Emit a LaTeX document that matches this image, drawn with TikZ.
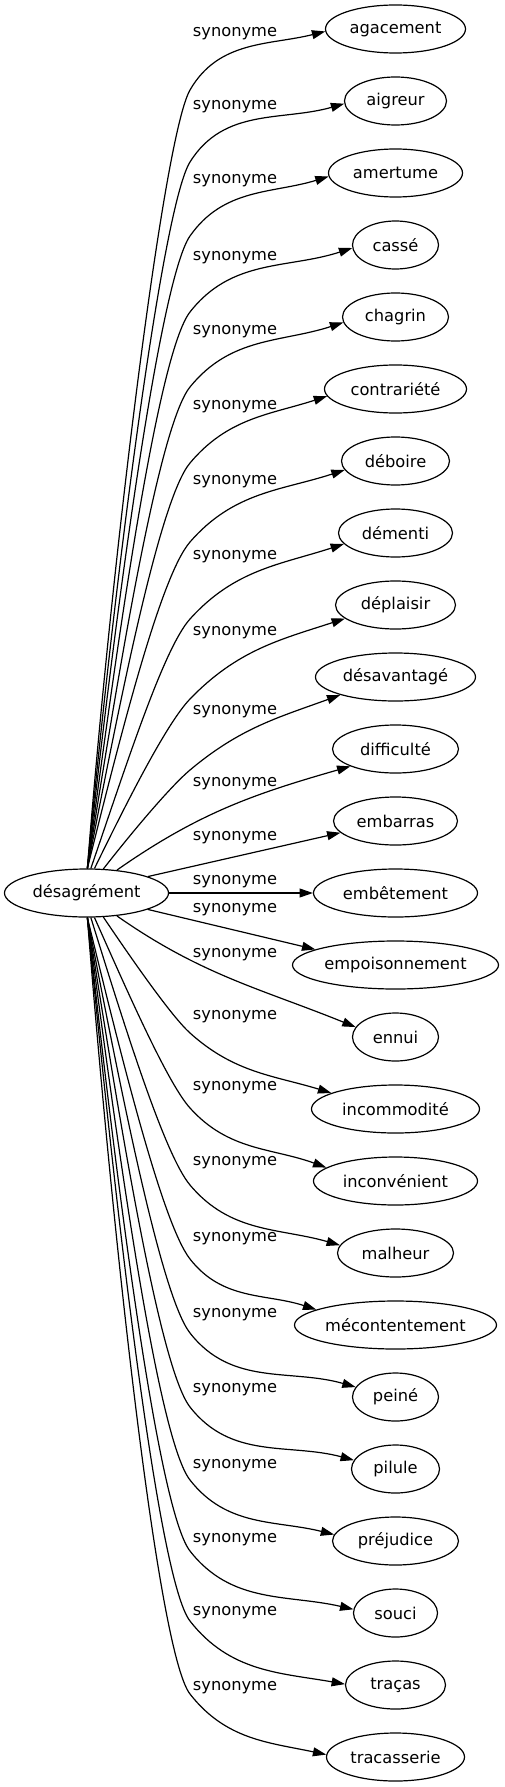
\documentclass[tikz,border=0pt]{standalone}
\usepackage{fontspec}
\setmainfont{DejaVu Sans}
\usetikzlibrary{shapes.geometric,arrows.meta}
\begin{document}
\begin{tikzpicture}[x=0.75pt,y=-0.75pt,
  tgt/.style={ellipse,draw,line width=0.9pt,inner sep=0pt,minimum height=36pt,font=\fontsize{12.2pt}{14pt}\selectfont},
  lbl/.style={inner sep=0pt,font=\fontsize{12.2pt}{14pt}\selectfont},
  edge/.style={draw,line width=0.9pt,-{Triangle[length=10pt,width=6.7pt]}}]
\useasboundingbox (0,0) rectangle (504,1787);
% source
\node[tgt,minimum width=123pt] (d) at (86.5,893) {désagrément};
% targets
\node[tgt,minimum width=105pt]   (t0)  at (395.5,29)   {agacement};
\node[tgt,minimum width=76.5pt]  (t1)  at (395.5,101)  {aigreur};
\node[tgt,minimum width=100.5pt] (t2)  at (395.5,173)  {amertume};
\node[tgt,minimum width=64.5pt]  (t3)  at (395.5,245)  {cassé};
\node[tgt,minimum width=79.5pt]  (t4)  at (395.5,317)  {chagrin};
\node[tgt,minimum width=106.5pt] (t5)  at (395.5,389)  {contrariété};
\node[tgt,minimum width=81pt]    (t6)  at (395.5,461)  {déboire};
\node[tgt,minimum width=85.5pt]  (t7)  at (395.5,533)  {démenti};
\node[tgt,minimum width=90pt]    (t8)  at (395.5,605)  {déplaisir};
\node[tgt,minimum width=120pt]   (t9)  at (395.5,677)  {désavantagé};
\node[tgt,minimum width=94.5pt]  (t10) at (395.5,749)  {difficulté};
\node[tgt,minimum width=93pt]    (t11) at (395.5,821)  {embarras};
\node[tgt,minimum width=123pt]   (t12) at (395.5,893)  {embêtement};
\node[tgt,minimum width=154.5pt] (t13) at (395.5,965)  {empoisonnement};
\node[tgt,minimum width=64.5pt]  (t14) at (395.5,1037) {ennui};
\node[tgt,minimum width=126pt]   (t15) at (395.5,1109) {incommodité};
\node[tgt,minimum width=123pt]   (t16) at (395.5,1181) {inconvénient};
\node[tgt,minimum width=87pt]    (t17) at (395.5,1253) {malheur};
\node[tgt,minimum width=151.5pt] (t18) at (395.5,1325) {mécontentement};
\node[tgt,minimum width=64.5pt]  (t19) at (395.5,1397) {peiné};
\node[tgt,minimum width=66pt]    (t20) at (395.5,1469) {pilule};
\node[tgt,minimum width=94.5pt]  (t21) at (395.5,1541) {préjudice};
\node[tgt,minimum width=63pt]    (t22) at (395.5,1613) {souci};
\node[tgt,minimum width=75pt]    (t23) at (395.5,1685) {traças};
\node[tgt,minimum width=103.5pt] (t24) at (395.5,1757) {tracasserie};
% labels
\node[lbl] (l0)  at (235,34)   {synonyme};
\node[lbl] (l1)  at (235,107)  {synonyme};
\node[lbl] (l2)  at (235,181)  {synonyme};
\node[lbl] (l3)  at (235,258)  {synonyme};
\node[lbl] (l4)  at (235,332)  {synonyme};
\node[lbl] (l5)  at (235,407)  {synonyme};
\node[lbl] (l6)  at (235,482)  {synonyme};
\node[lbl] (l7)  at (235,557)  {synonyme};
\node[lbl] (l8)  at (235,633)  {synonyme};
\node[lbl] (l9)  at (235,712)  {synonyme};
\node[lbl] (l10) at (235,784)  {synonyme};
\node[lbl] (l11) at (235,838)  {synonyme};
\node[lbl] (l12) at (235,882)  {synonyme};
\node[lbl] (l13) at (235,910)  {synonyme};
\node[lbl] (l14) at (235,955)  {synonyme};
\node[lbl] (l15) at (235,1017) {synonyme};
\node[lbl] (l16) at (235,1088) {synonyme};
\node[lbl] (l17) at (235,1163) {synonyme};
\node[lbl] (l18) at (235,1239) {synonyme};
\node[lbl] (l19) at (235,1315) {synonyme};
\node[lbl] (l20) at (235,1390) {synonyme};
\node[lbl] (l21) at (235,1466) {synonyme};
\node[lbl] (l22) at (235,1540) {synonyme};
\node[lbl] (l23) at (235,1613) {synonyme};
\node[lbl] (l24) at (235,1688) {synonyme};
% bend points
\coordinate (k0)  at (190,90);
\coordinate (k1)  at (190,162);
\coordinate (k2)  at (190,236);
\coordinate (k3)  at (190,312);
\coordinate (k4)  at (190,387);
\coordinate (k5)  at (190,463);
\coordinate (k6)  at (190,542);
\coordinate (k7)  at (190,619);
\coordinate (k8)  at (190,699);
\coordinate (k9)  at (190,770);
\coordinate (k15) at (190,1033);
\coordinate (k16) at (190,1108);
\coordinate (k17) at (190,1185);
\coordinate (k18) at (190,1259);
\coordinate (k19) at (190,1333);
\coordinate (k20) at (190,1407);
\coordinate (k21) at (190,1480);
\coordinate (k22) at (190,1551);
\coordinate (k23) at (190,1621);
\coordinate (k24) at (190,1694);
% upper edges
\draw[edge] (d.88) to[out=85.5,in=240,out distance=230pt,in distance=40pt] (k0) to[out=60,in=194] (t0.182);
\draw[edge] (d.88) to[out=84.7,in=238,out distance=209pt,in distance=40pt] (k1) to[out=58,in=196] (t1.183);
\draw[edge] (d.88) to[out=83.8,in=235,out distance=188pt,in distance=40pt] (k2) to[out=55,in=197] (t2.183);
\draw[edge] (d.88) to[out=82.5,in=232,out distance=166pt,in distance=40pt] (k3) to[out=52,in=198] (t3.184);
\draw[edge] (d.88) to[out=81,in=231,out distance=144pt,in distance=38pt] (k4) to[out=51,in=198] (t4.186);
\draw[edge] (d.88) to[out=79,in=230,out distance=122pt,in distance=36pt] (k5) to[out=50,in=198] (t5.186);
\draw[edge] (d.88) to[out=76,in=229,out distance=100pt,in distance=34pt] (k6) to[out=49,in=198] (t6.190);
\draw[edge] (d.80) to[out=71,in=228,out distance=79pt,in distance=30pt] (k7) to[out=48,in=198] (t7.192);
\draw[edge] (d.72) to[out=64,in=226,out distance=57pt,in distance=25pt] (k8) to[out=46,in=198] (t8.195);
\draw[edge] (d.55) to[out=52,in=220,out distance=39pt,in distance=18pt] (k9) to[out=40,in=200] (t9.198);
% middle edges
\draw[edge] (d.37) to[out=35,in=196] (t10.201);
\draw[edge] (d.15) -- (t11.192);
\draw[edge] (d.east) -- (t12.west);
\draw[edge] (d.-15) -- (t13.169);
\draw[edge] (d.-37) to[out=-35,in=158] (t14.166);
% lower edges
\draw[edge] (d.-55) to[out=-56,in=138,out distance=42pt,in distance=18pt] (k15) to[out=-42,in=163] (t15.166);
\draw[edge] (d.-72) to[out=-66,in=132,out distance=62pt,in distance=25pt] (k16) to[out=-48,in=160] (t16.169);
\draw[edge] (d.-80) to[out=-72.7,in=130,out distance=84pt,in distance=30pt] (k17) to[out=-50,in=164] (t17.172);
\draw[edge] (d.-88) to[out=-76.3,in=128,out distance=104pt,in distance=34pt] (k18) to[out=-52,in=162] (t18.169);
\draw[edge] (d.-88) to[out=-79,in=128,out distance=125pt,in distance=36pt] (k19) to[out=-52,in=164] (t19.166);
\draw[edge] (d.-88) to[out=-81,in=128,out distance=146pt,in distance=38pt] (k20) to[out=-52,in=165] (t20.168);
\draw[edge] (d.-88) to[out=-82.5,in=128,out distance=167pt,in distance=40pt] (k21) to[out=-52,in=166] (t21.174);
\draw[edge] (d.-88) to[out=-83.8,in=128,out distance=188pt,in distance=40pt] (k22) to[out=-52,in=167] (t22.175);
\draw[edge] (d.-88) to[out=-84.5,in=128,out distance=208pt,in distance=40pt] (k23) to[out=-52,in=170] (t23.179);
\draw[edge] (d.-88) to[out=-85.5,in=128,out distance=229pt,in distance=40pt] (k24) to[out=-52,in=168] (t24.178);
\end{tikzpicture}
\end{document}
